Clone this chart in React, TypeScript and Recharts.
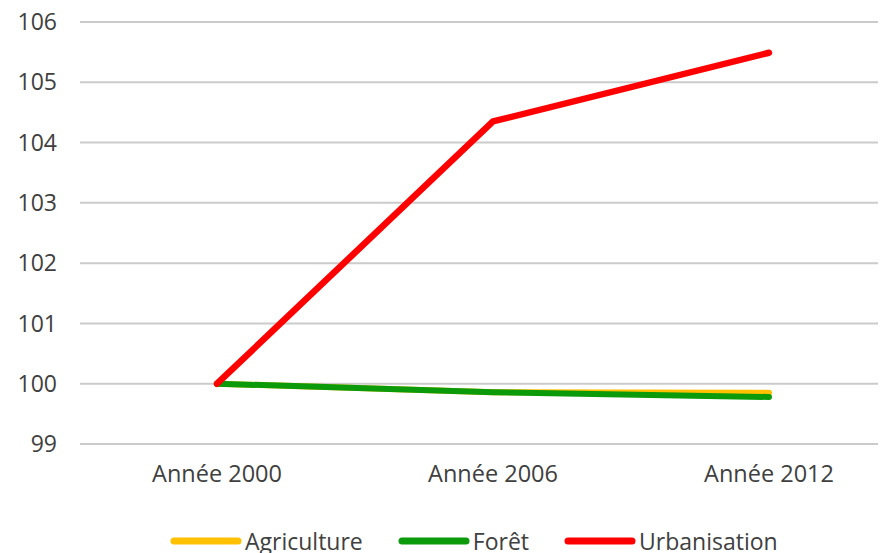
import React from "react";
import { LineChart, Line, XAxis, YAxis, CartesianGrid, Legend } from "recharts";

const years = ["Année 2000", "Année 2006", "Année 2012"];
const agriculture = [100, 99.86, 99.85];
const foret = [100, 99.86, 99.78];
const urbanisation = [100, 104.35, 105.49];
const yTicks = [99, 100, 101, 102, 103, 104, 105, 106];

const seriesInfo = [
  { key: "agriculture", name: "Agriculture", color: "#FFC000" },
  { key: "foret", name: "Forêt", color: "#0A9A0A" },
  { key: "urbanisation", name: "Urbanisation", color: "#FF0000" },
];

const data = years.map((year, i) => ({
  year,
  agriculture: agriculture[i],
  foret: foret[i],
  urbanisation: urbanisation[i],
}));

const FONT = "'Open Sans', sans-serif";

const LegendContent = () => (
  <div style={{ display: "flex", alignItems: "center", fontFamily: FONT, fontSize: 23, color: "#404040", whiteSpace: "nowrap" }}>
    {seriesInfo.map((s, i) => (
      <div key={s.key} style={{ display: "flex", alignItems: "center", marginRight: i < seriesInfo.length - 1 ? 35 : 0 }}>
        <svg width={72} height={12} style={{ marginRight: 3 }}>
          <line x1={4} y1={6} x2={68} y2={6} stroke={s.color} strokeWidth={7} strokeLinecap="round" />
        </svg>
        <span>{s.name}</span>
      </div>
    ))}
  </div>
);

export default function App() {
  return (
    <div style={{ margin: "-8px 0 0 -8px", width: 920, height: 570, background: "#fff" }}>
      <LineChart width={920} height={570} data={data} margin={{ top: 22, right: 12, bottom: 0, left: 0 }}>
        <CartesianGrid horizontal vertical={false} stroke="#cbcbcb" strokeWidth={2} />
        <XAxis
          dataKey="year"
          axisLine={false}
          tickLine={false}
          tickSize={0}
          tickMargin={21}
          height={126}
          padding={{ left: 137, right: 139 }}
          tick={{ fill: "#404040", fontSize: 23.5, fontFamily: FONT }}
        />
        <YAxis
          domain={[99, 106]}
          ticks={yTicks}
          axisLine={false}
          tickLine={false}
          tickSize={0}
          tickMargin={23}
          width={80}
          interval={0}
          tick={{ fill: "#404040", fontSize: 23, fontFamily: FONT }}
        />
        <Legend
          verticalAlign="middle"
          align="center"
          content={<LegendContent />}
          wrapperStyle={{ top: 525, left: 170, width: "auto" }}
        />
        {seriesInfo.map((s) => (
          <Line
            key={s.key}
            dataKey={s.key}
            name={s.name}
            stroke={s.color}
            strokeWidth={s.key === "urbanisation" ? 6.5 : 6}
            strokeLinecap="round"
            strokeLinejoin="round"
            dot={false}
            activeDot={false}
            isAnimationActive={false}
          />
        ))}
      </LineChart>
    </div>
  );
}
